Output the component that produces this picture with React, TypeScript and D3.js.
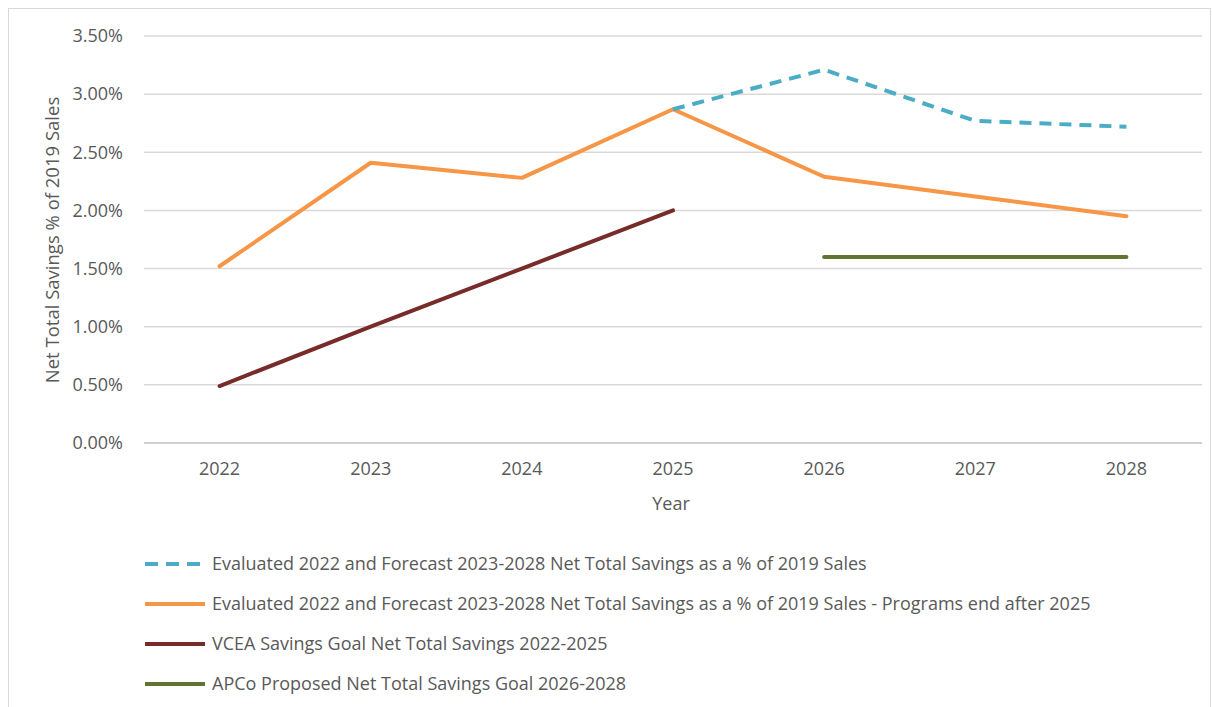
import React, { useEffect, useRef } from "react";
import * as d3 from "d3";

const years = ["2022", "2023", "2024", "2025", "2026", "2027", "2028"];
const forecastAll: (number | null)[] = [null, null, null, 2.87, 3.21, 2.77, 2.72];
const programsEnd: (number | null)[] = [1.52, 2.41, 2.28, 2.87, 2.29, 2.12, 1.95];
const vceaGoal: (number | null)[] = [0.49, 1.0, 1.5, 2.0, null, null, null];
const apcoGoal: (number | null)[] = [null, null, null, null, 1.6, 1.6, 1.6];
const yTicks = [0, 0.5, 1.0, 1.5, 2.0, 2.5, 3.0, 3.5];

const seriesNames = [
  "Evaluated 2022 and Forecast 2023-2028 Net Total Savings as a % of 2019 Sales",
  "Evaluated 2022 and Forecast 2023-2028 Net Total Savings as a % of 2019 Sales - Programs end after 2025",
  "VCEA Savings Goal Net Total Savings 2022-2025",
  "APCo Proposed Net Total Savings Goal 2026-2028",
];
const seriesValues = [forecastAll, programsEnd, vceaGoal, apcoGoal];
const seriesColors = ["#4bacc6", "#f79646", "#772c2a", "#5f7530"];
const seriesDash = ["12,8", null, null, null];

const W = 1212;
const H = 707;
const FONT = "'Open Sans', 'Liberation Sans', sans-serif";

export default function App() {
  const ref = useRef<SVGSVGElement>(null);
  useEffect(() => {
    const svg = d3.select(ref.current);
    svg.selectAll("*").remove();

    const plotL = 144, plotR = 1202, plotT = 36, plotB = 443;
    const x = d3.scaleBand().domain(years).range([plotL, plotR]);
    const y = d3.scaleLinear().domain([0, 3.5]).range([plotB, plotT]);
    const cx = (yr: string) => (x(yr) as number) + x.bandwidth() / 2;

    svg.append("rect").attr("x", 8.5).attr("y", 8.5).attr("width", W - 10).attr("height", H - 6)
      .attr("fill", "#fff").attr("stroke", "#d9d9d9");

    const g = svg.append("g");
    g.selectAll("line.grid").data(yTicks).enter().append("line")
      .attr("x1", plotL).attr("x2", plotR)
      .attr("y1", (d) => y(d)).attr("y2", (d) => y(d))
      .attr("stroke", (d) => (d === 0 ? "#d0d0d0" : "#d9d9d9"))
      .attr("stroke-width", (d) => (d === 0 ? 2 : 1.5));

    g.selectAll("text.ytick").data(yTicks).enter().append("text")
      .attr("x", 123).attr("y", (d) => y(d)).attr("dy", "0.35em")
      .attr("text-anchor", "end").attr("font-family", FONT).attr("font-size", 18)
      .attr("fill", "#595959").text((d) => d3.format(".2f")(d) + "%");

    g.selectAll("text.xtick").data(years).enter().append("text")
      .attr("x", (d) => cx(d)).attr("y", 469).attr("dy", "0.35em")
      .attr("text-anchor", "middle").attr("font-family", FONT).attr("font-size", 18)
      .attr("fill", "#595959").text((d) => d);

    g.append("text").attr("x", 671).attr("y", 504).attr("dy", "0.35em")
      .attr("text-anchor", "middle").attr("font-family", FONT).attr("font-size", 18)
      .attr("fill", "#595959").text("Year");

    g.append("text").attr("transform", `translate(53,240) rotate(-90)`).attr("dy", "0.35em")
      .attr("text-anchor", "middle").attr("font-family", FONT).attr("font-size", 18.5)
      .attr("fill", "#595959").text("Net Total Savings % of 2019 Sales");

    const line = d3.line<number | null>()
      .defined((d) => d !== null)
      .x((_, i) => cx(years[i]))
      .y((d) => y(d as number));

    [2, 3, 1, 0].forEach((si) => {
      const p = g.append("path").attr("d", line(seriesValues[si]) as string)
        .attr("fill", "none").attr("stroke", seriesColors[si]).attr("stroke-width", 4)
        .attr("stroke-linejoin", "round").attr("stroke-linecap", si === 0 ? "butt" : "round");
      if (seriesDash[si]) p.attr("stroke-dasharray", seriesDash[si] as string);
    });

    const legendY = [564, 604, 644, 684];
    seriesNames.forEach((name, i) => {
      const lg = g.append("g");
      const l = lg.append("line").attr("x1", 145).attr("x2", 205)
        .attr("y1", legendY[i]).attr("y2", legendY[i])
        .attr("stroke", seriesColors[i]).attr("stroke-width", 4);
      if (seriesDash[i]) l.attr("stroke-dasharray", "13,8");
      lg.append("text").attr("x", 212).attr("y", legendY[i]).attr("dy", "0.35em")
        .attr("font-family", FONT).attr("font-size", 18).attr("fill", "#595959").text(name);
    });
  }, []);

  return (
    <svg ref={ref} width={W} height={H}
      style={{ position: "absolute", left: 0, top: 0, display: "block", background: "#fff" }} />
  );
}
